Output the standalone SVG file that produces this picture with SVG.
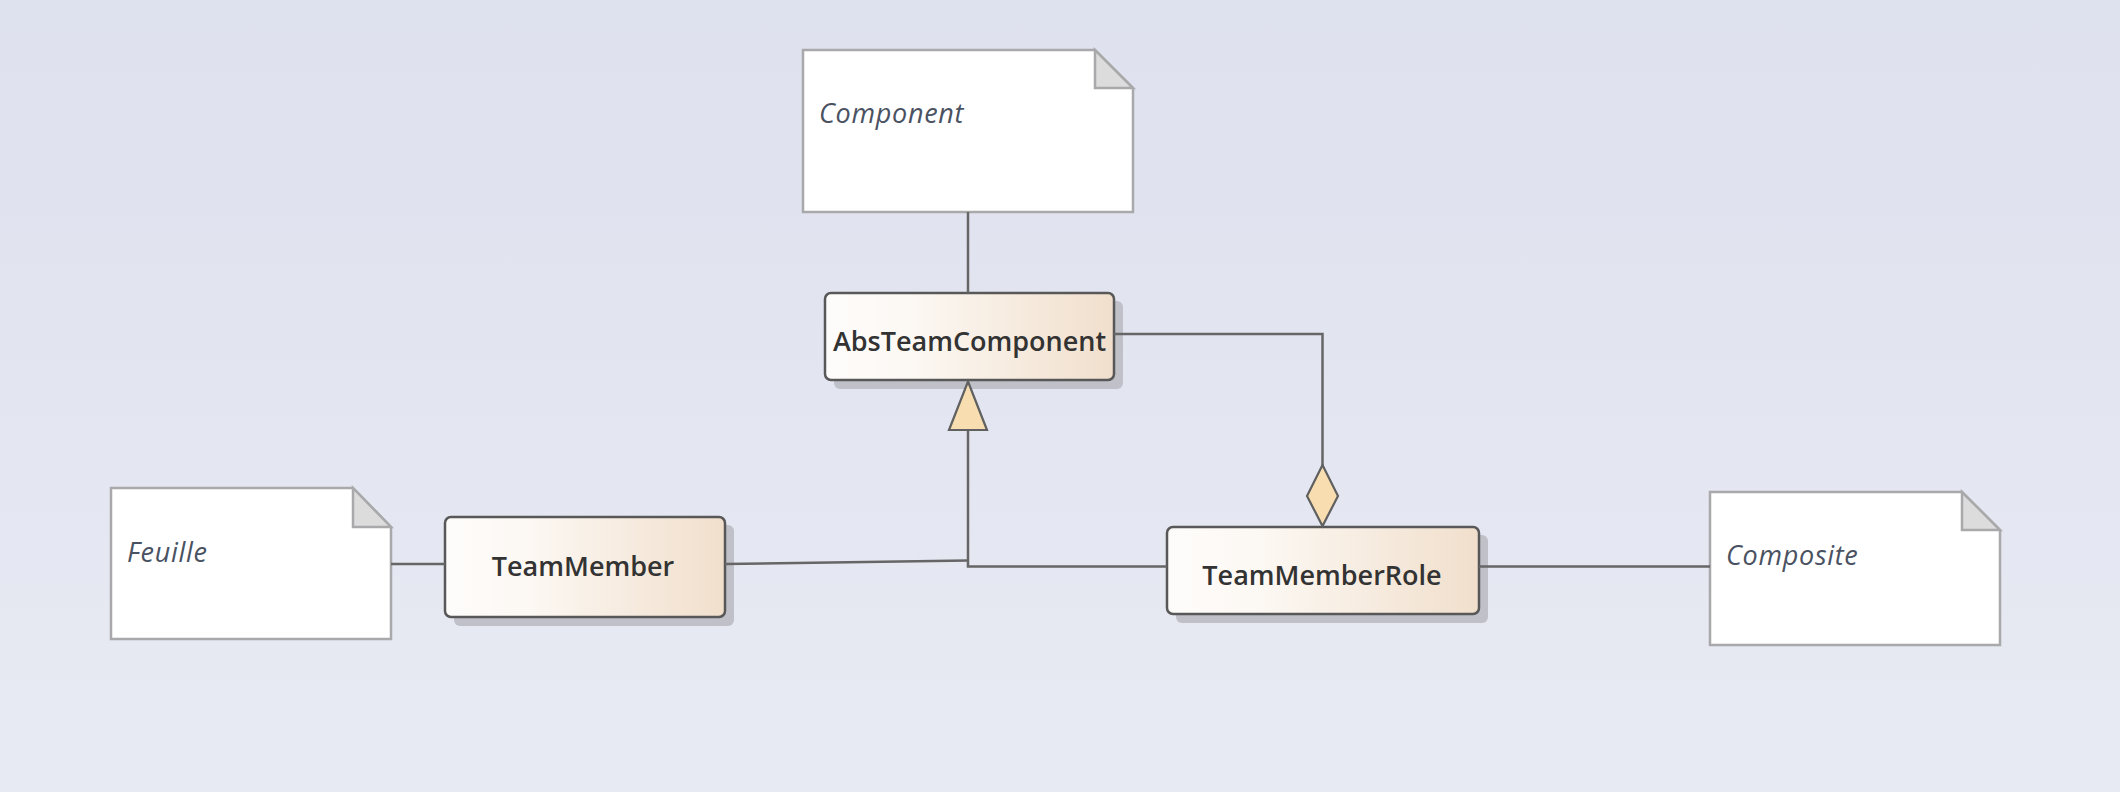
<svg xmlns="http://www.w3.org/2000/svg" width="2120" height="792" viewBox="0 0 2120 792">
<defs>
<linearGradient id="bg" x1="0" y1="0" x2="0" y2="1">
<stop offset="0" stop-color="#dee1ee"/>
<stop offset="1" stop-color="#e8eaf3"/>
</linearGradient>
<linearGradient id="cls" x1="0" y1="0" x2="1" y2="0">
<stop offset="0" stop-color="#fefcfb"/>
<stop offset="0.3" stop-color="#fcf8f3"/>
<stop offset="1" stop-color="#f1dfcc"/>
</linearGradient>
<style>
.note{fill:#ffffff;stroke:#a9a9ab;stroke-width:2.5}
.fold{fill:#dcdcdc;stroke:#a9a9ab;stroke-width:2.5;stroke-linejoin:miter}
.ntxt{font-family:"Open Sans","Noto Sans",sans-serif;font-style:italic;font-size:27px;letter-spacing:0.7px;fill:#4a5262}
.box{fill:url(#cls);stroke:#585858;stroke-width:2.5}
.shadow{fill:#bfc0c8}
.ctxt{font-family:"Open Sans","Noto Sans",sans-serif;font-weight:600;font-size:27px;fill:#333333}
.conn{fill:none;stroke:#666666;stroke-width:2.5}
.head{fill:#f8ddb0;stroke:#606060;stroke-width:2.2;stroke-linejoin:miter}
</style>
</defs>
<rect x="0" y="0" width="2120" height="792" fill="url(#bg)"/>

<g id="note-component">
<path class="note" d="M803,50 H1095 L1133,88 V212 H803 Z"/>
<path class="fold" d="M1095,50 V88 H1133 Z"/>
<text class="ntxt" x="819" y="123">Component</text>
</g>

<g id="note-feuille">
<path class="note" d="M111,488 H353 L391,527 V639 H111 Z"/>
<path class="fold" d="M353,488 V527 H391 Z"/>
<text class="ntxt" x="127" y="562">Feuille</text>
</g>

<g id="note-composite">
<path class="note" d="M1710,492 H1962 L2000,530 V645 H1710 Z"/>
<path class="fold" d="M1962,492 V530 H2000 Z"/>
<text class="ntxt" x="1726" y="565">Composite</text>
</g>

<g id="AbsTeamComponent">
<rect class="shadow" x="834" y="301" width="289" height="88" rx="6"/>
<rect class="box" x="825" y="293" width="289" height="87" rx="6"/>
<text class="ctxt" x="969.5" y="351" text-anchor="middle">AbsTeamComponent</text>
</g>

<g id="TeamMember">
<rect class="shadow" x="454" y="525" width="280" height="101" rx="6"/>
<rect class="box" x="445" y="517" width="280" height="100" rx="6"/>
<text class="ctxt" x="583" y="576" text-anchor="middle">TeamMember</text>
</g>

<g id="TeamMemberRole">
<rect class="shadow" x="1176" y="535" width="312" height="88" rx="6"/>
<rect class="box" x="1167" y="527" width="312" height="87" rx="6"/>
<text class="ctxt" x="1322" y="585" text-anchor="middle">TeamMemberRole</text>
</g>

<g id="connectors">
<line class="conn" x1="968" y1="212" x2="968" y2="293"/>
<line class="conn" x1="391" y1="564" x2="445" y2="564"/>
<polyline class="conn" points="725,564 968,560.5"/>
<polyline class="conn" points="968,430 968,566.5 1167,566.5"/>
<polyline class="conn" points="1114,334 1322.5,334 1322.5,465"/>
<line class="conn" x1="1479" y1="566.5" x2="1710" y2="566.5"/>
<polygon class="head" points="968,381.5 987,430 949,430"/>
<polygon class="head" points="1322.5,465 1338,496 1322.5,526 1307,496"/>
</g>
</svg>
